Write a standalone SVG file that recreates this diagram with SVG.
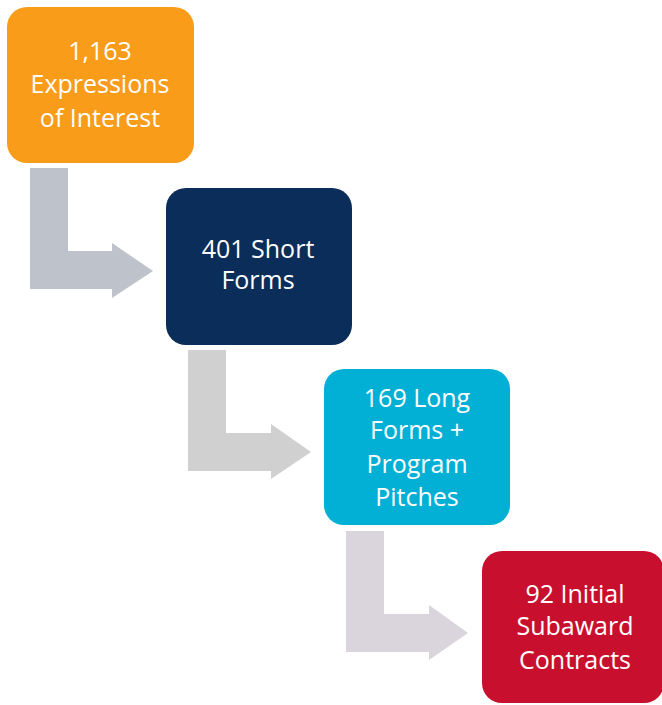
<svg xmlns="http://www.w3.org/2000/svg" width="662" height="705" viewBox="0 0 662 705">
<style>
.lbl{font-family:"Open Sans","Noto Sans",sans-serif;font-size:25px;fill:#fff;text-anchor:middle}
</style>
<rect width="662" height="705" fill="#fff"/>
<g id="connectors">
<path d="M30,168 H68 V251 H112 V243 L153,271 L112,298 V289 H30 Z" fill="#BEC2CB"/>
<path d="M188,350 H226 V433 H271 V424 L311,452 L271,479 V471 H188 Z" fill="#D0D0D0"/>
<path d="M346,531 H384 V614 H429 V605 L468,633 L429,660 V652 H346 Z" fill="#DAD5DD"/>
</g>
<g id="n1">
<rect x="7" y="7" width="187" height="156" rx="20" fill="#F99C1A"/>
<text class="lbl" x="100" y="60">1,163</text>
<text class="lbl" x="100" y="93">Expressions</text>
<text class="lbl" x="100" y="127">of Interest</text>
</g>
<g id="n2">
<rect x="166" y="188" width="186" height="157" rx="20" fill="#0B2D59"/>
<text class="lbl" x="258" y="258">401 Short</text>
<text class="lbl" x="258" y="289">Forms</text>
</g>
<g id="n3">
<rect x="324" y="369" width="186" height="156" rx="20" fill="#02B0D6"/>
<text class="lbl" x="417" y="407">169 Long</text>
<text class="lbl" x="417" y="439">Forms +</text>
<text class="lbl" x="417" y="473">Program</text>
<text class="lbl" x="417" y="506">Pitches</text>
</g>
<g id="n4">
<rect x="482" y="551" width="182" height="152" rx="20" fill="#C8102E"/>
<text class="lbl" x="575" y="603">92 Initial</text>
<text class="lbl" x="575" y="635">Subaward</text>
<text class="lbl" x="575" y="669">Contracts</text>
</g>
</svg>
